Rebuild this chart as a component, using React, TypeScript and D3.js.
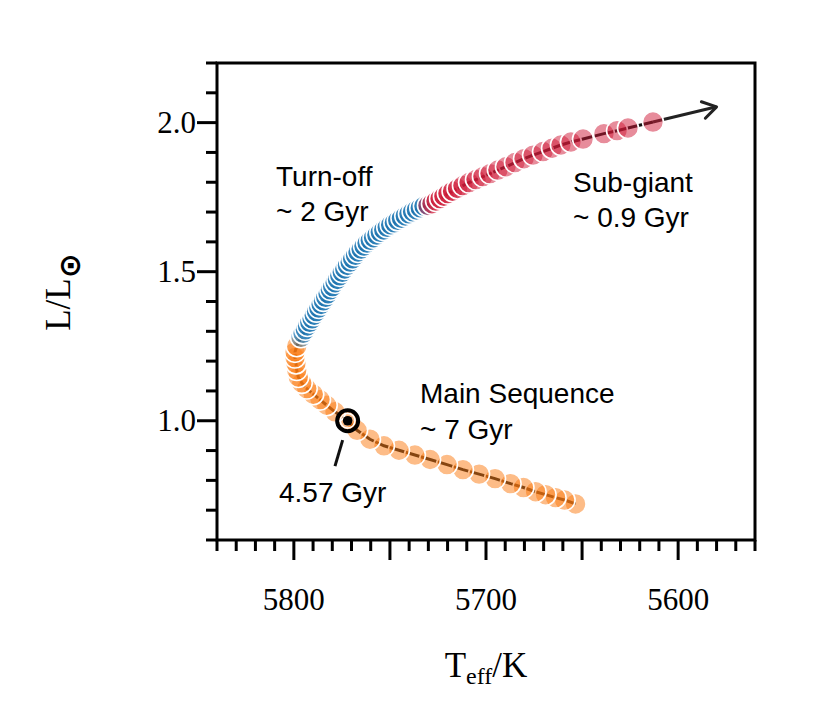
import React from "react";
import * as d3 from "d3";

// Main sequence (orange), from ZAMS to the turn-off
const MS_TEFF = [5653.4, 5659.1, 5663.8, 5669.0, 5674.2, 5680.5, 5687.2, 5695.3, 5703.6, 5712.0, 5720.3, 5729.1, 5737.0, 5745.3, 5753.1, 5760.4, 5767.1, 5772.0, 5778.6, 5782.9, 5786.4, 5789.9, 5793.3, 5795.9, 5797.7, 5798.5, 5798.9, 5799.4, 5799.4, 5798.5];
const MS_LUM = [0.721, 0.734, 0.742, 0.752, 0.762, 0.776, 0.789, 0.806, 0.821, 0.836, 0.853, 0.870, 0.885, 0.901, 0.916, 0.938, 0.968, 1.000, 1.030, 1.052, 1.071, 1.089, 1.108, 1.127, 1.147, 1.170, 1.192, 1.212, 1.231, 1.250];

// Turn-off (blue)
const TO_TEFF = [5796.3, 5795.2, 5794.0, 5792.9, 5791.7, 5790.5, 5789.4, 5788.2, 5787.0, 5785.8, 5784.6, 5783.4, 5782.2, 5781.0, 5779.8, 5778.5, 5777.3, 5776.1, 5774.8, 5773.5, 5772.1, 5770.7, 5769.4, 5767.9, 5766.6, 5765.0, 5763.5, 5761.9, 5760.2, 5758.5, 5756.8, 5755.0, 5753.2, 5751.4, 5749.6, 5747.7, 5745.9, 5744.0, 5742.0, 5740.1, 5738.2, 5736.2, 5734.2, 5732.3];
const TO_LUM = [1.280, 1.293, 1.305, 1.318, 1.330, 1.342, 1.354, 1.366, 1.378, 1.390, 1.402, 1.414, 1.426, 1.439, 1.450, 1.463, 1.474, 1.486, 1.498, 1.509, 1.521, 1.532, 1.543, 1.555, 1.566, 1.576, 1.586, 1.596, 1.605, 1.614, 1.623, 1.632, 1.640, 1.649, 1.657, 1.664, 1.672, 1.679, 1.687, 1.694, 1.701, 1.707, 1.714, 1.720];

// Sub-giant (red)
const SG_TEFF = [5730.2, 5728.1, 5726.0, 5723.9, 5721.9, 5719.8, 5717.4, 5714.8, 5712.0, 5708.8, 5705.2, 5701.6, 5697.9, 5693.8, 5689.6, 5684.9, 5680.2, 5675.5, 5670.3, 5665.6, 5661.0, 5655.8, 5649.5, 5638.6, 5631.8, 5626.1, 5613.1];
const SG_LUM = [1.722, 1.728, 1.737, 1.745, 1.753, 1.762, 1.770, 1.779, 1.789, 1.799, 1.809, 1.819, 1.829, 1.841, 1.852, 1.866, 1.879, 1.891, 1.903, 1.914, 1.925, 1.935, 1.945, 1.963, 1.973, 1.982, 2.002];

const SUN = [5772, 1.0];
const SUN_POINTER = [[5774.6, 0.935], [5778.6, 0.848]];
const ARROW_TIP = [5580, 2.053];

const X_DOMAIN = [5840, 5560];
const Y_DOMAIN = [0.6, 2.2];
const X_LABEL_TICKS = [5800, 5700, 5600];
const X_MAJOR_TICKS = [5800, 5750, 5700, 5650, 5600];
const Y_LABEL_TICKS = [1.0, 1.5, 2.0];

const SERIF = "'Liberation Serif', 'Times New Roman', serif";
const SANS = "'Liberation Sans', Arial, sans-serif";

export default function App() {
  const W = 830, H = 719;
  const L = 217, R = 755, T = 63, B = 540;
  const x = d3.scaleLinear().domain(X_DOMAIN).range([L, R]);
  const y = d3.scaleLinear().domain(Y_DOMAIN).range([B, T]);

  const zip = (a: number[], b: number[]) => a.map((v, i) => [v, b[i]] as [number, number]);
  const ms = zip(MS_TEFF, MS_LUM);
  const to = zip(TO_TEFF, TO_LUM);
  const sg = zip(SG_TEFF, SG_LUM);
  const all = [...ms, ...to, ...sg];

  const line = d3.line<[number, number]>().x(d => x(d[0])).y(d => y(d[1]));

  const xMinor = d3.range(5560, 5841, 10);
  const yMinor = d3.range(6, 23).map(v => v / 10);

  const last = sg[sg.length - 1];
  const tx = x(ARROW_TIP[0]), ty = y(ARROW_TIP[1]);
  const ang = Math.atan2(ty - y(last[1]), tx - x(last[0]));
  const headLen = 16, headAng = (32 * Math.PI) / 180;
  const h1 = [tx - headLen * Math.cos(ang - headAng), ty - headLen * Math.sin(ang - headAng)];
  const h2 = [tx - headLen * Math.cos(ang + headAng), ty - headLen * Math.sin(ang + headAng)];

  const r = 10.5;
  const dots = (pts: [number, number][], color: string, key: string) =>
    pts.map((p, i) => (
      <circle key={key + i} cx={x(p[0])} cy={y(p[1])} r={r} fill={color} fillOpacity={0.5} stroke="#fff" strokeWidth={1.6} />
    ));

  return (
    <svg width={W} height={H} style={{ position: "absolute", left: 0, top: 0, background: "#fff" }}>
      <rect width={W} height={H} fill="#fff" />
      {/* track line */}
      <path d={line(all) || ""} fill="none" stroke="#111" strokeWidth={3} />
      {/* arrow */}
      <line x1={x(last[0])} y1={y(last[1])} x2={tx} y2={ty} stroke="#222" strokeWidth={3} />
      <polyline points={`${h1[0]},${h1[1]} ${tx},${ty} ${h2[0]},${h2[1]}`} fill="none" stroke="#222" strokeWidth={3} strokeLinecap="round" strokeLinejoin="round" />
      {dots(ms, "#fb7a10", "ms")}
      {dots(to, "#1f77b4", "to")}
      {dots(sg, "#cf1a38", "sg")}
      {/* Sun */}
      <circle cx={x(SUN[0])} cy={y(SUN[1])} r={10.5} fill="none" stroke="#000" strokeWidth={4} />
      <circle cx={x(SUN[0])} cy={y(SUN[1])} r={7.3} fill="none" stroke="#fff" strokeWidth={1.5} />
      <circle cx={x(SUN[0])} cy={y(SUN[1])} r={4.8} fill="#000" />
      <line x1={x(SUN_POINTER[0][0])} y1={y(SUN_POINTER[0][1])} x2={x(SUN_POINTER[1][0])} y2={y(SUN_POINTER[1][1])} stroke="#111" strokeWidth={3} />

      {/* frame */}
      <rect x={L} y={T} width={R - L} height={B - T} fill="none" stroke="#000" strokeWidth={3} />
      {xMinor.map(v => {
        const major = X_MAJOR_TICKS.includes(v);
        return <line key={"xt" + v} x1={x(v)} x2={x(v)} y1={B} y2={B + (major ? 20 : 11)} stroke="#000" strokeWidth={3} />;
      })}
      {yMinor.map(v => {
        const major = Y_LABEL_TICKS.some(t => Math.abs(t - v) < 1e-6);
        return <line key={"yt" + v} y1={y(v)} y2={y(v)} x1={L} x2={L - (major ? 20 : 11)} stroke="#000" strokeWidth={3} />;
      })}
      {X_LABEL_TICKS.map(v => (
        <text key={"xl" + v} x={x(v)} y={610} textAnchor="middle" fontFamily={SERIF} fontSize={31} fill="#000">{v}</text>
      ))}
      {Y_LABEL_TICKS.map(v => (
        <text key={"yl" + v} x={196} y={y(v) + 10} textAnchor="end" fontFamily={SERIF} fontSize={31} fill="#000">{v.toFixed(1)}</text>
      ))}

      {/* axis titles */}
      <text x={(L + R) / 2} y={677} textAnchor="middle" fontFamily={SERIF} fontSize={35} fill="#000">
        T<tspan fontSize={24} dy={7}>eff</tspan><tspan dy={-7}>/K</tspan>
      </text>
      <text transform="translate(70,292) rotate(-90)" textAnchor="middle" fontFamily={SERIF} fontSize={35} fill="#000">
        L/L<tspan fontSize={30} dy={10} fontWeight="bold" fontFamily="'DejaVu Sans', sans-serif">⊙</tspan>
      </text>

      {/* annotations */}
      <g fontFamily={SANS} fontSize={28} fill="#000">
        <text x={276} y={186}>Turn-off</text>
        <text x={276} y={221}>~ 2 Gyr</text>
        <text x={573} y={192}>Sub-giant</text>
        <text x={573} y={227}>~ 0.9 Gyr</text>
        <text x={420} y={403}>Main Sequence</text>
        <text x={420} y={439}>~ 7 Gyr</text>
        <text x={279} y={502}>4.57 Gyr</text>
      </g>
    </svg>
  );
}
